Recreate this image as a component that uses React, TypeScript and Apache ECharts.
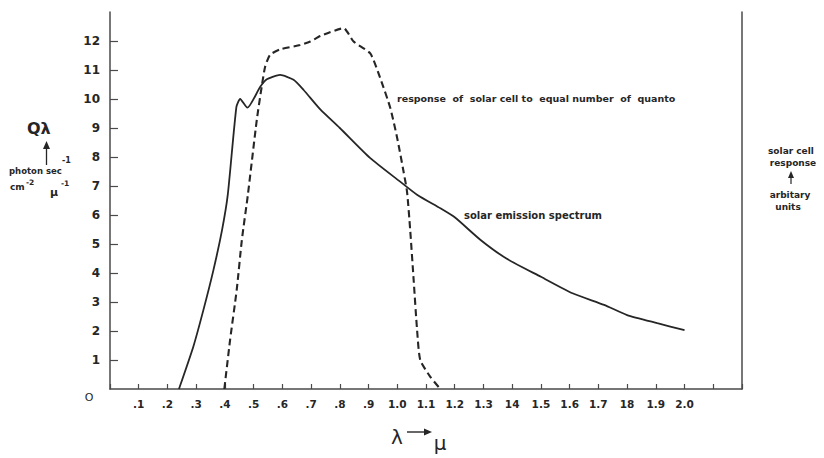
import React, { useEffect, useRef } from "react";
import * as echarts from "echarts";

// x axis tick labels at 0, 0.1, ... 2.2 (as printed)
const xTickLabels = ["", ".1", ".2", ".3", ".4", ".5", ".6", ".7", ".8", ".9", "1.0", "1.1", "1.2", "1.3", "14", "1.5", "1.6", "1.7", "18", "1.9", "2.0", "", ""];
const yTickValues = [1, 2, 3, 4, 5, 6, 7, 8, 9, 10, 11, 12];

// solar emission spectrum (solid)
const emissionLambda = [0.24, 0.29, 0.325, 0.36, 0.39, 0.41, 0.44, 0.453, 0.478, 0.523, 0.546, 0.592, 0.639, 0.674, 0.732, 0.8, 0.906, 1.01, 1.07, 1.15, 1.2, 1.29, 1.38, 1.5, 1.61, 1.72, 1.8, 1.905, 2.0];
const emissionQ = [0, 1.46, 2.72, 4.1, 5.48, 6.7, 9.73, 10.0, 9.7, 10.42, 10.68, 10.83, 10.66, 10.31, 9.64, 9.0, 7.96, 7.15, 6.69, 6.23, 5.92, 5.14, 4.5, 3.87, 3.3, 2.9, 2.55, 2.27, 2.03];

// response of solar cell (dashed)
const responseLambda = [0.398, 0.418, 0.441, 0.459, 0.48, 0.511, 0.528, 0.54, 0.557, 0.592, 0.662, 0.697, 0.732, 0.813, 0.848, 0.906, 0.941, 0.976, 1.0, 1.022, 1.034, 1.045, 1.057, 1.069, 1.08, 1.115, 1.15];
const responseValue = [0, 1.69, 3.41, 5.14, 6.7, 9.28, 10.42, 11.11, 11.52, 11.71, 11.86, 11.98, 12.17, 12.44, 11.98, 11.57, 10.71, 9.68, 8.64, 7.49, 6.8, 5.48, 3.76, 2.03, 1.0, 0.42, 0];

export default function App() {
  const ref = useRef<HTMLDivElement>(null);
  useEffect(() => {
    const chart = echarts.init(ref.current!, null, { renderer: "svg" });
    const ink = "#262626";
    const axisColor = "#4a4a4a";
    const font = "DejaVu Sans";
    const txt = (text: string, x: number, y: number, size: number, align: string = "left", weight: string = "bold") => ({
      type: "text",
      x,
      y,
      silent: true,
      style: {
        text,
        fill: ink,
        fontSize: size,
        fontFamily: font,
        fontWeight: weight,
        textAlign: align,
        textVerticalAlign: "middle",
      },
    });
    chart.setOption({
      animation: false,
      backgroundColor: "#ffffff",
      grid: { left: 110, right: 82, top: 12, bottom: 69, outerBoundsMode: "none" },
      xAxis: {
        type: "value",
        min: 0,
        max: 2.2,
        interval: 0.1,
        axisLine: { lineStyle: { color: axisColor, width: 1.5 } },
        axisTick: { inside: true, length: 5, lineStyle: { color: axisColor, width: 1.2 } },
        axisLabel: {
          margin: 9,
          color: ink,
          fontSize: 10.5,
          fontWeight: "bold",
          fontFamily: font,
          showMinLabel: true,
          showMaxLabel: true,
          formatter: (v: number) => xTickLabels[Math.round(v * 10)] ?? "",
        },
        splitLine: { show: false },
      },
      yAxis: [
        {
          type: "value",
          min: 0,
          max: 13,
          interval: 1,
          position: "left",
          axisLine: { show: true, lineStyle: { color: axisColor, width: 1.5 } },
          axisTick: { show: true, inside: true, length: 8, customValues: yTickValues, lineStyle: { color: axisColor, width: 1.2 } },
          axisLabel: {
            customValues: yTickValues,
            margin: 10,
            color: ink,
            fontSize: 12,
            fontWeight: "bold",
            fontFamily: font,
          },
          splitLine: { show: false },
        },
        {
          type: "value",
          min: 0,
          max: 13,
          position: "right",
          axisLine: { show: true, lineStyle: { color: axisColor, width: 1.5 } },
          axisTick: { show: false },
          axisLabel: { show: false },
          splitLine: { show: false },
        },
      ],
      series: [
        {
          name: "solar emission spectrum",
          type: "line",
          data: emissionLambda.map((x, i) => [x, emissionQ[i]]),
          smooth: 0.2,
          symbol: "none",
          lineStyle: { color: ink, width: 1.8 },
        },
        {
          name: "response of solar cell",
          type: "line",
          data: responseLambda.map((x, i) => [x, responseValue[i]]),
          smooth: 0.2,
          symbol: "none",
          lineStyle: { color: ink, width: 2.1, type: [7, 4] },
        },
      ],
      graphic: [
        // left axis title
        txt("Q\u03bb", 27, 128, 16, "left", "bold"),
        { type: "line", silent: true, shape: { x1: 46.5, y1: 165, x2: 46.5, y2: 146 }, style: { stroke: ink, lineWidth: 1.3 } },
        { type: "polygon", silent: true, shape: { points: [[46.5, 141], [43, 149], [50, 149]] }, style: { fill: ink } },
        txt("photon sec", 9, 171, 8.5),
        txt("-1", 62, 160, 8),
        txt("cm", 10, 187, 9),
        txt("-2", 26, 182, 7.5),
        txt("\u03bc", 50, 192, 11),
        txt("-1", 61, 183, 7.5),
        txt("O", 89, 397, 11, "center", "normal"),
        // x axis title
        txt("\u03bb", 397, 437, 20, "center", "normal"),
        { type: "line", silent: true, shape: { x1: 407, y1: 432, x2: 427, y2: 432 }, style: { stroke: ink, lineWidth: 1.4 } },
        { type: "polygon", silent: true, shape: { points: [[432, 432], [424, 428.5], [424, 435.5]] }, style: { fill: ink } },
        txt("\u03bc", 440, 443, 20, "center", "normal"),
        // right axis title
        txt("solar cell", 768, 151, 9),
        txt("response", 793, 163, 9, "center"),
        { type: "line", silent: true, shape: { x1: 791, y1: 184, x2: 791, y2: 176 }, style: { stroke: ink, lineWidth: 1.2 } },
        { type: "polygon", silent: true, shape: { points: [[791, 171], [788, 178], [794, 178]] }, style: { fill: ink } },
        txt("arbitary", 790, 195, 9, "center"),
        txt("units", 788, 207, 9, "center"),
        // curve annotations
        txt("response  of  solar cell to  equal number  of  quanto", 397, 98, 9.5),
        txt("solar emission spectrum", 464, 215, 10),
      ],
    });
    return () => chart.dispose();
  }, []);
  return <div ref={ref} style={{ position: "absolute", left: 0, top: 0, width: 824, height: 458 }} />;
}
